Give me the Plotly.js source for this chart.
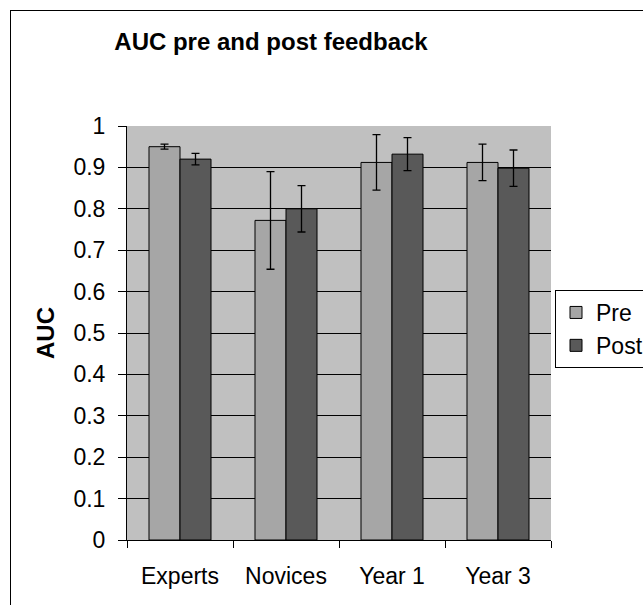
<!DOCTYPE html>
<html>
<head>
<meta charset="utf-8">
<script src="https://cdn.plot.ly/plotly-3.0.1.min.js"></script>
<style>
  html, body { margin: 0; padding: 0; background: #fff; overflow: hidden; width: 643px; height: 605px; }
  #frame { position: absolute; left: 10px; top: 10px; width: 760px; height: 700px; border: 1px solid #000; box-sizing: border-box; }
  #chart { position: absolute; left: 0; top: 0; width: 720px; height: 605px; }
</style>
</head>
<body>
<div id="frame"></div>
<div id="chart"></div>
<script>
const categories = ["Experts", "Novices", "Year 1", "Year 3"];
const preValues = [0.95, 0.772, 0.912, 0.912];
const preErrors = [0.006, 0.118, 0.067, 0.044];
const postValues = [0.92, 0.80, 0.932, 0.898];
const postErrors = [0.014, 0.056, 0.04, 0.044];
const seriesNames = ["Pre", "Post"];
const yTicks = [0, 0.1, 0.2, 0.3, 0.4, 0.5, 0.6, 0.7, 0.8, 0.9, 1];
const yTickText = ["0", "0.1", "0.2", "0.3", "0.4", "0.5", "0.6", "0.7", "0.8", "0.9", "1"];

const font = "Liberation Sans, Arial, sans-serif";
const errStyle = (arr) => ({ type: "data", array: arr, visible: true, color: "#000", thickness: 1.3, width: 4 });

const traces = [
  { type: "bar", name: seriesNames[0], x: categories, y: preValues, error_y: errStyle(preErrors),
    marker: { color: "#a6a6a6", line: { color: "#000", width: 1 } } },
  { type: "bar", name: seriesNames[1], x: categories, y: postValues, error_y: errStyle(postErrors),
    marker: { color: "#595959", line: { color: "#000", width: 1 } } }
];

const W = 720;
const layout = {
  width: W, height: 605,
  margin: { l: 127, r: W - 551, t: 126, b: 65, autoexpand: false },
  paper_bgcolor: "rgba(0,0,0,0)",
  plot_bgcolor: "#c0c0c0",
  font: { family: font, size: 23, color: "#000" },
  title: { text: "<b>AUC pre and post feedback</b>", font: { family: font, size: 24, color: "#000" },
           x: 271 / W, xanchor: "center", y: 0.932, yanchor: "middle" },
  barmode: "group",
  bargap: 0.415,
  bargroupgap: 0,
  showlegend: true,
  legend: { x: (555 - 127) / 424, xanchor: "left", y: (540 - 290) / 414, yanchor: "top", bgcolor: "#fff",
            bordercolor: "#000", borderwidth: 1, font: { family: font, size: 23 },
            traceorder: "normal", itemwidth: 30 },
  xaxis: {
    type: "category", showgrid: false, zeroline: false,
    showline: true, linecolor: "#000", linewidth: 1,
    ticks: "outside", tickson: "boundaries", ticklen: 7, tickcolor: "#000",
    tickfont: { family: font, size: 23 }, ticklabelstandoff: 15
  },
  yaxis: {
    range: [0, 1], tickvals: yTicks, ticktext: yTickText,
    showgrid: true, gridcolor: "#000", gridwidth: 1,
    zeroline: false, showline: true, linecolor: "#000", linewidth: 1,
    ticks: "outside", ticklen: 8, tickcolor: "#000",
    tickfont: { family: font, size: 23 }, ticklabelstandoff: 8,
    title: { text: "<b>AUC</b>", font: { family: font, size: 24 }, standoff: 12 }
  }
};

Plotly.newPlot("chart", traces, layout, { displayModeBar: false, staticPlot: true });
</script>
</body>
</html>
